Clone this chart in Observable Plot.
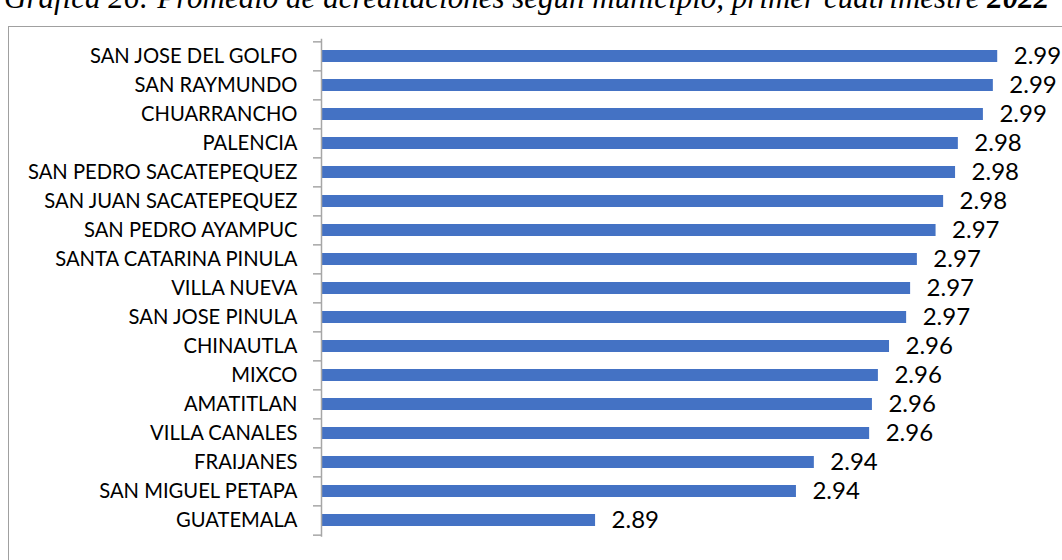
<!DOCTYPE html>
<html>
<head>
<meta charset="utf-8">
<script src="https://cdn.jsdelivr.net/npm/d3@7"></script>
<script src="https://cdn.jsdelivr.net/npm/@observablehq/plot@0.6"></script>
<style>
  html, body { margin: 0; padding: 0; background: #fff; }
  #wrap { position: relative; width: 1062px; height: 560px; overflow: hidden; background: #fff; }
  #title { position: absolute; left: 4px; top: -18px; white-space: nowrap;
    font-family: "Liberation Serif", "Times New Roman", serif; font-style: italic;
    font-size: 31px; line-height: 31px; color: #000; }
  #title b { font-weight: bold; }
  #frame { position: absolute; left: 8px; top: 26px; width: 1100px; height: 600px;
    border: 1.5px solid #a0a0a0; box-sizing: border-box; }
  #chart { position: absolute; left: 0; top: 0; }
</style>
</head>
<body>
<div id="wrap">
  <div id="frame"></div>
  <div id="title">Gráfica 26: Promedio de acreditaciones según municipio, primer cuatrimestre <b>2022</b></div>
  <div id="chart"></div>
</div>
<script>
const municipios = [
  "SAN JOSE DEL GOLFO", "SAN RAYMUNDO", "CHUARRANCHO", "PALENCIA",
  "SAN PEDRO SACATEPEQUEZ", "SAN JUAN SACATEPEQUEZ", "SAN PEDRO AYAMPUC",
  "SANTA CATARINA PINULA", "VILLA NUEVA", "SAN JOSE PINULA", "CHINAUTLA",
  "MIXCO", "AMATITLAN", "VILLA CANALES", "FRAIJANES", "SAN MIGUEL PETAPA", "GUATEMALA"
];
const promedios = [
  2.9900, 2.9889, 2.9864, 2.9801, 2.9794, 2.9764, 2.9745, 2.9698, 2.9681,
  2.9671, 2.9628, 2.9600, 2.9585, 2.9578, 2.9439, 2.9394, 2.8889
];
const xDomain = [2.82, 3.0];

const data = municipios.map((name, i) => ({name, value: promedios[i]}));

const W = 1062, H = 560, mt = 38.7, mb = 23.2;
const step = (H - mt - mb) / municipios.length;
const fmt = d3.format(".2f");
const gray = "#a6a6a6";

const chart = Plot.plot({
  width: W, height: H,
  marginLeft: 321, marginRight: 25, marginTop: mt, marginBottom: mb,
  style: {fontFamily: "Lato, 'Open Sans', sans-serif", background: "transparent", color: "#000"},
  x: {domain: xDomain, axis: null},
  y: {domain: municipios, paddingInner: 0.6, paddingOuter: 0.3, axis: null},
  marks: [
    Plot.barX(data, {x1: () => xDomain[0], x2: "value", y: "name", fill: "#4472C4"}),
    Plot.ruleX([xDomain[0]], {stroke: gray, strokeWidth: 1.5}),
    Plot.axisY({tickSize: 0, tickPadding: 24, fontSize: 20.2, fill: "#000", label: null}),
    Plot.axisY(municipios, {dy: -step / 2, tickSize: 8, text: null, label: null, stroke: gray, strokeWidth: 1.5, strokeOpacity: 1}),
    Plot.axisY([municipios[municipios.length - 1]], {dy: step / 2, tickSize: 8, text: null, label: null, stroke: gray, strokeWidth: 1.5, strokeOpacity: 1}),
    Plot.text(data, {x: "value", y: "name", text: d => fmt(d.value), textAnchor: "start", dx: 16, fontSize: 24, fill: "#000"})
  ]
});
document.getElementById("chart").appendChild(chart);
</script>
</body>
</html>
